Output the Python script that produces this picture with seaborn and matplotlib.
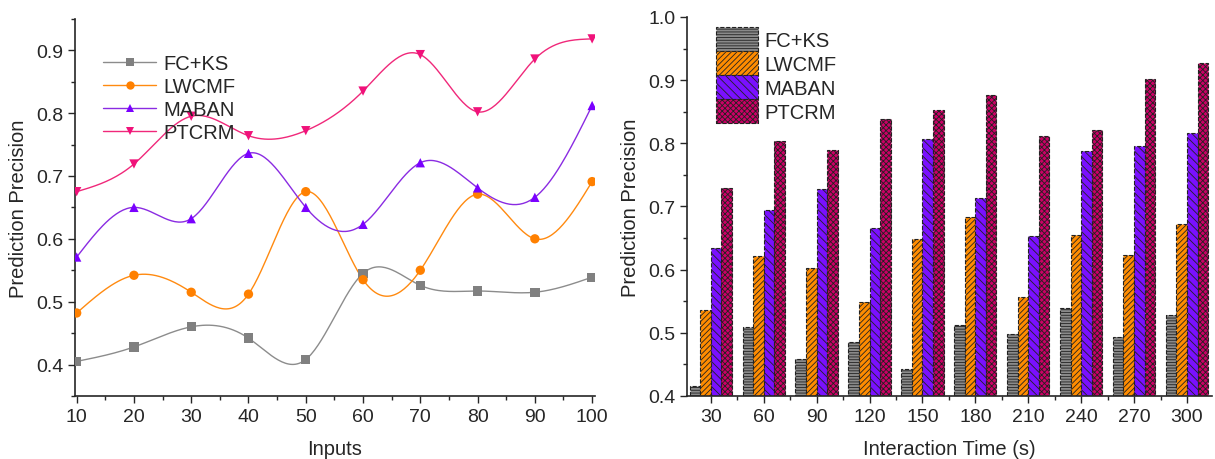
import numpy as np
import pandas as pd
import matplotlib
matplotlib.use("Agg")
import matplotlib.pyplot as plt
import matplotlib.patches as mpatches
from matplotlib.lines import Line2D
from matplotlib.ticker import MultipleLocator, FixedLocator
import seaborn as sns

methods = ["FC+KS", "LWCMF", "MABAN", "PTCRM"]

# left chart: precision vs. number of inputs
inputs = [10, 20, 30, 40, 50, 60, 70, 80, 90, 100]
line_fcks = [0.405, 0.428, 0.460, 0.442, 0.408, 0.545, 0.526, 0.517, 0.515, 0.539]
line_lwcmf = [0.482, 0.542, 0.515, 0.512, 0.675, 0.535, 0.550, 0.671, 0.600, 0.691]
line_maban = [0.571, 0.650, 0.632, 0.736, 0.650, 0.623, 0.721, 0.681, 0.666, 0.812]
line_ptcrm = [0.675, 0.719, 0.795, 0.764, 0.772, 0.835, 0.893, 0.802, 0.886, 0.918]

# right chart: precision vs. interaction time
times = ["30", "60", "90", "120", "150", "180", "210", "240", "270", "300"]
bar_fcks = [0.416, 0.509, 0.458, 0.485, 0.442, 0.512, 0.498, 0.540, 0.494, 0.528]
bar_lwcmf = [0.536, 0.621, 0.602, 0.549, 0.648, 0.683, 0.556, 0.655, 0.623, 0.672]
bar_maban = [0.635, 0.694, 0.727, 0.666, 0.806, 0.713, 0.654, 0.787, 0.796, 0.816]
bar_ptcrm = [0.730, 0.803, 0.790, 0.838, 0.853, 0.877, 0.812, 0.821, 0.901, 0.927]

line_colors = ["#8c8c8c", "#ff8a10", "#8a2be2", "#f0287a"]
marker_colors = ["#808080", "#ff8000", "#7a00ff", "#f0127a"]
markers = ["s", "o", "^", "v"]
bar_colors = ["#8a8a8a", "#ff8c00", "#7a10ff", "#cc0066"]
hatches = ["------", "//////", "\\\\\\\\", "xxxxxx"]


def natural_spline(x, y, n=300):
    # smooth connector through the points (like Origin's spline line)
    x = np.asarray(x, float)
    y = np.asarray(y, float)
    h = np.diff(x)
    m = len(x)
    A = np.zeros((m, m))
    r = np.zeros(m)
    A[0, 0] = A[-1, -1] = 1
    for i in range(1, m - 1):
        A[i, i - 1] = h[i - 1]
        A[i, i] = 2 * (h[i - 1] + h[i])
        A[i, i + 1] = h[i]
        r[i] = 3 * ((y[i + 1] - y[i]) / h[i] - (y[i] - y[i - 1]) / h[i - 1])
    c = np.linalg.solve(A, r)
    xs = np.linspace(x[0], x[-1], n)
    idx = np.clip(np.searchsorted(x, xs) - 1, 0, m - 2)
    dx = xs - x[idx]
    b = (y[1:] - y[:-1]) / h - h * (2 * c[:-1] + c[1:]) / 3
    d = (c[1:] - c[:-1]) / (3 * h)
    ys = y[idx] + b[idx] * dx + c[idx] * dx ** 2 + d[idx] * dx ** 3
    return xs, ys


sns.set_style("ticks")
plt.rcParams["font.family"] = ["Liberation Sans", "DejaVu Sans"]
plt.rcParams["hatch.linewidth"] = 0.6
plt.rcParams["xtick.direction"] = "out"
plt.rcParams["ytick.direction"] = "out"

fig = plt.figure(figsize=(12.15, 4.6), dpi=100)
ax1 = fig.add_axes([0.0617, 0.137, 0.428, 0.82])
ax2 = fig.add_axes([0.5654, 0.137, 0.432, 0.824])

# ---- left: smoothed lines ----
line_series = [line_fcks, line_lwcmf, line_maban, line_ptcrm]
pts = pd.DataFrame({
    "Inputs": inputs * 4,
    "value": sum(line_series, []),
    "method": np.repeat(methods, len(inputs)),
})
smooth_parts = []
for name, vals in zip(methods, line_series):
    xs, ys = natural_spline(inputs, vals)
    smooth_parts.append(pd.DataFrame({"Inputs": xs, "value": ys, "method": name}))
smooth = pd.concat(smooth_parts, ignore_index=True)

sns.lineplot(data=smooth, x="Inputs", y="value", hue="method", palette=line_colors,
             linewidth=1.0, legend=False, ax=ax1, sort=False)
sns.scatterplot(data=pts, x="Inputs", y="value", hue="method", style="method",
                markers=markers, palette=marker_colors, s=45, linewidth=0,
                legend=False, ax=ax1, zorder=3)

ax1.set_xlim(9.7, 100.5)
ax1.set_ylim(0.35, 0.95)
ax1.xaxis.set_major_locator(MultipleLocator(10))
ax1.xaxis.set_minor_locator(MultipleLocator(5))
ax1.yaxis.set_major_locator(FixedLocator([0.4, 0.5, 0.6, 0.7, 0.8, 0.9]))
ax1.yaxis.set_minor_locator(MultipleLocator(0.05))
ax1.set_xlabel("Inputs", fontsize=14.5, labelpad=10)
ax1.set_ylabel("Prediction Precision", fontsize=14.5, labelpad=6)

handles1 = [Line2D([0], [0], color=lc, marker=mk, markerfacecolor=mc, markeredgewidth=0,
                   markersize=6, linewidth=1.0)
            for lc, mc, mk in zip(line_colors, marker_colors, markers)]
ax1.legend(handles1, methods, loc="upper left", bbox_to_anchor=(0.02, 0.955), frameon=False,
           fontsize=14.5, handlelength=2.6, labelspacing=0.2, handletextpad=0.35)

# ---- right: hatched grouped bars ----
bar_series = [bar_fcks, bar_lwcmf, bar_maban, bar_ptcrm]
bars = pd.DataFrame({
    "time": times * 4,
    "value": sum(bar_series, []),
    "method": np.repeat(methods, len(times)),
})
sns.barplot(data=bars, x="time", y="value", hue="method", palette=bar_colors,
            saturation=1, width=0.8, edgecolor="#222222", linewidth=0.8,
            linestyle="--", legend=False, ax=ax2)
for cont, hatch in zip(ax2.containers, hatches):
    for patch in cont:
        patch.set_hatch(hatch)

ax2.set_xlim(-0.45, 9.47)
ax2.set_ylim(0.4, 1.0)
ax2.yaxis.set_major_locator(MultipleLocator(0.1))
ax2.yaxis.set_minor_locator(MultipleLocator(0.05))
ax2.xaxis.set_minor_locator(FixedLocator(np.arange(-0.5, 10, 1.0)))
ax2.set_xlabel("Interaction Time (s)", fontsize=14.5, labelpad=10)
ax2.set_ylabel("Prediction Precision", fontsize=14.5, labelpad=6)

handles2 = [mpatches.Patch(facecolor=c, edgecolor="#222222", hatch=h, linestyle="--", linewidth=0.8)
            for c, h in zip(bar_colors, hatches)]
ax2.legend(handles2, methods, loc="upper left", bbox_to_anchor=(0.02, 1.02), frameon=False,
           fontsize=14.5, handlelength=2.1, handleheight=1.45, labelspacing=0.0,
           handletextpad=0.3)

for ax in (ax1, ax2):
    sns.despine(ax=ax)
    ax.tick_params(axis="both", which="major", labelsize=14, length=5, width=1)
    ax.tick_params(axis="both", which="minor", length=3, width=1)
    ax.spines["left"].set_linewidth(1.2)
    ax.spines["bottom"].set_linewidth(1.2)

fig.savefig("out.png", dpi=100)
